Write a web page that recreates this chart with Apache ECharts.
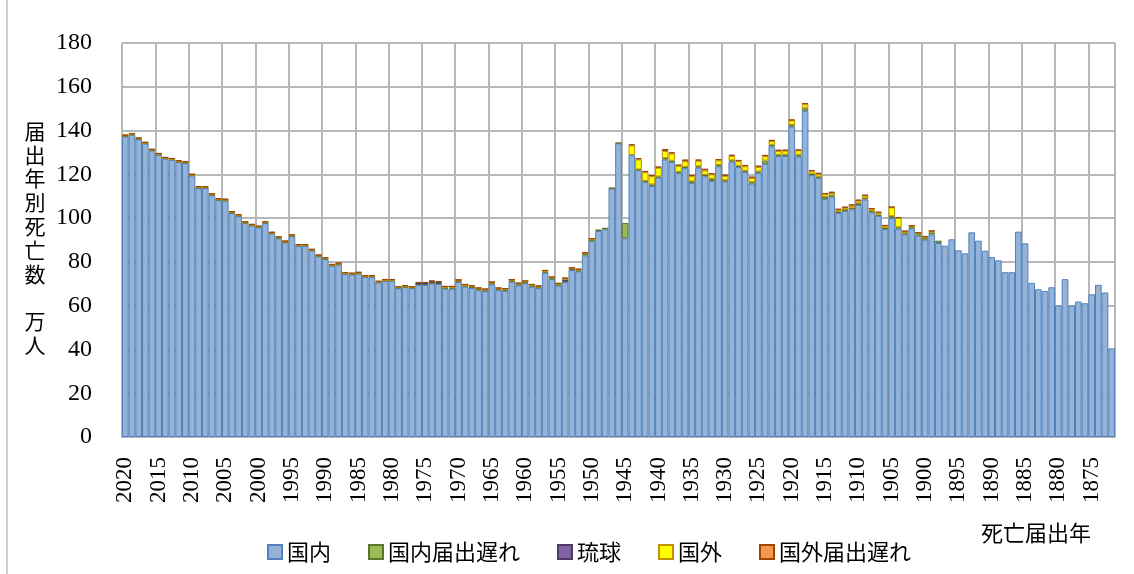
<!DOCTYPE html>
<html>
<head>
<meta charset="utf-8">
<script src="https://cdn.jsdelivr.net/npm/echarts@6/dist/echarts.min.js"></script>
<style>
html, body { margin: 0; padding: 0; background: #fff; }
#main { width: 1134px; height: 574px; }
</style>
</head>
<body>
<div id="main"></div>
<script>
var myChart = echarts.init(document.getElementById('main'));

// 死亡届出年 2020 -> 1872
var years = [];
for (var y = 2020; y >= 1872; y--) years.push(String(y));

// 国内 (万人)
var kokunai = [
    137.3, 138.0, 136.0, 134.0, 130.8, 128.9, 127.1, 126.6, 125.6, 125.1,
    119.4, 113.7, 113.7, 110.5, 108.2, 108.0, 102.3, 100.9, 97.7, 96.5,
    95.7, 97.7, 92.9, 90.8, 88.9, 91.7, 87.3, 87.3, 85.1, 82.5,
    81.3, 78.2, 78.8, 74.5, 74.2, 74.6, 73.1, 73.1, 70.5, 71.3,
    71.3, 68.0, 68.5, 68.0, 69.5, 69.5, 70.2, 69.9, 67.8, 67.8,
    70.8, 68.7, 68.1, 67.1, 66.6, 69.8, 67.1, 66.8, 70.9, 69.3,
    70.3, 68.7, 68.0, 75.1, 72.1, 69.2, 70.8, 76.3, 75.7, 83.0,
    89.4, 94.1, 94.9, 113.6, 134.2, 90.8, 128.9, 121.9, 116.4, 114.7,
    118.5, 126.8, 125.7, 120.5, 122.8, 116.0, 123.1, 119.1, 117.0, 123.7,
    116.7, 125.8, 123.3, 121.0, 115.8, 120.7, 124.8, 132.8, 128.3, 128.4,
    141.8, 128.1, 149.0, 119.6, 118.4, 108.8, 109.8, 102.3, 103.2, 104.0,
    106.0, 108.5, 102.5, 101.0, 95.0, 100.0, 95.2, 92.6, 95.3, 92.0,
    90.2, 92.6, 88.6, 87.4, 90.3, 85.3, 83.9, 93.5, 89.7, 85.1,
    82.2, 80.7, 75.3, 75.3, 93.8, 88.5, 70.4, 67.5, 66.7, 68.4,
    60.1, 72.1, 60.1, 61.9, 61.1, 65.2, 69.5, 66.0, 40.5
];

// 国内届出遅れ
var kokunaiOkure = [
    0.3, 0.3, 0.3, 0.3, 0.3, 0.3, 0.3, 0.3, 0.3, 0.3,
    0.3, 0.3, 0.3, 0.3, 0.3, 0.3, 0.3, 0.3, 0.3, 0.3,
    0.3, 0.3, 0.3, 0.3, 0.3, 0.3, 0.3, 0.3, 0.3, 0.3,
    0.3, 0.3, 0.3, 0.3, 0.3, 0.3, 0.3, 0.3, 0.3, 0.3,
    0.3, 0.3, 0.3, 0.3, 0.3, 0.3, 0.3, 0.3, 0.4, 0.4,
    0.4, 0.4, 0.4, 0.4, 0.4, 0.4, 0.4, 0.4, 0.4, 0.4,
    0.4, 0.4, 0.4, 0.4, 0.4, 0.4, 0.4, 0.4, 0.4, 0.8,
    0.8, 0.7, 0.7, 0.2, 0.2, 7.0, 0, 0.3, 0.6, 0.7,
    0.5, 0.6, 0.5, 0.6, 0.6, 0.8, 0.6, 0.6, 0.9, 0.6,
    0.6, 0.6, 0.6, 0.6, 0.6, 0.6, 1.5, 0.7, 0.6, 0.6,
    0.8, 0.8, 1.2, 0.6, 0.6, 0.9, 0.6, 0.5, 0.5, 0.8,
    0.8, 0.6, 0.7, 0.6, 0.5, 0.9, 0.6, 0.5, 0.5, 0.6,
    0.6, 0.9, 1.1, 0, 0, 0, 0, 0, 0, 0,
    0, 0, 0, 0, 0, 0, 0, 0, 0, 0,
    0, 0, 0, 0, 0, 0, 0, 0, 0
];

// 琉球
var ryukyu = [
    0, 0, 0, 0, 0, 0, 0, 0, 0, 0,
    0, 0, 0, 0, 0, 0, 0, 0, 0, 0,
    0, 0, 0, 0, 0, 0, 0, 0, 0, 0,
    0, 0, 0, 0, 0, 0, 0, 0, 0, 0,
    0, 0, 0, 0, 0.6, 0.6, 0.6, 0.6, 0, 0,
    0, 0, 0, 0, 0, 0, 0, 0, 0, 0,
    0, 0, 0, 0, 0, 0, 0.8, 0, 0, 0,
    0, 0, 0, 0, 0, 0, 0, 0, 0, 0,
    0, 0, 0, 0, 0, 0, 0, 0, 0, 0,
    0, 0, 0, 0, 0, 0, 0, 0, 0, 0,
    0, 0, 0, 0, 0, 0, 0, 0, 0, 0,
    0, 0, 0, 0, 0, 0, 0, 0, 0, 0,
    0, 0, 0, 0, 0, 0, 0, 0, 0, 0,
    0, 0, 0, 0, 0, 0, 0, 0, 0, 0,
    0, 0, 0, 0, 0, 0, 0, 0, 0
];

// 国外
var kokugai = [
    0.1, 0.1, 0.1, 0.1, 0.1, 0.1, 0.1, 0.1, 0.1, 0.1,
    0.1, 0.1, 0.1, 0.1, 0.1, 0.1, 0.1, 0.1, 0.1, 0.1,
    0.1, 0.1, 0.1, 0.1, 0.1, 0.1, 0.1, 0.1, 0.1, 0.1,
    0.1, 0.1, 0.1, 0.1, 0.1, 0.1, 0.1, 0.1, 0.1, 0.1,
    0.1, 0.1, 0.1, 0.1, 0, 0, 0, 0, 0.5, 0.5,
    0.5, 0.5, 0.5, 0.5, 0.5, 0.5, 0.5, 0.5, 0.5, 0.5,
    0.5, 0.5, 0.5, 0.5, 0.5, 0.5, 0.5, 0.5, 0.5, 0.3,
    0.3, 0, 0, 0, 0, 0, 4.3, 4.6, 4.0, 3.8,
    4.0, 3.3, 3.3, 2.8, 2.6, 2.4, 2.5, 2.1, 2.1, 2.1,
    2.0, 2.0, 2.1, 2.1, 2.0, 2.1, 2.0, 1.7, 1.8, 1.8,
    2.1, 2.1, 1.8, 1.2, 1.2, 1.2, 1.1, 1.0, 1.0, 0.9,
    1.2, 1.2, 0.9, 0.9, 1.0, 4.0, 4.3, 0.8, 0.6, 0.6,
    0.6, 0.5, 0, 0, 0, 0, 0, 0, 0, 0,
    0, 0, 0, 0, 0, 0, 0, 0, 0, 0,
    0, 0, 0, 0, 0, 0, 0, 0, 0
];

// 国外届出遅れ
var kokugaiOkure = [
    0.5, 0.5, 0.5, 0.5, 0.5, 0.5, 0.5, 0.5, 0.5, 0.5,
    0.5, 0.5, 0.5, 0.5, 0.5, 0.5, 0.5, 0.5, 0.5, 0.5,
    0.5, 0.5, 0.5, 0.5, 0.5, 0.5, 0.5, 0.5, 0.5, 0.5,
    0.5, 0.5, 0.5, 0.5, 0.5, 0.5, 0.5, 0.5, 0.5, 0.5,
    0.5, 0.5, 0.5, 0.5, 0.4, 0.4, 0.4, 0.4, 0.2, 0.2,
    0.2, 0.2, 0.2, 0.2, 0.2, 0.2, 0.2, 0.2, 0.2, 0.2,
    0.2, 0.2, 0.2, 0.2, 0.2, 0.2, 0.2, 0.2, 0.2, 0.2,
    0.2, 0, 0, 0, 0, 0, 0.6, 0.6, 0.6, 0.5,
    0.6, 0.9, 0.6, 0.6, 0.8, 0.6, 0.6, 0.8, 0.6, 0.6,
    0.6, 0.6, 0.6, 0.6, 0.6, 0.6, 0.6, 0.6, 0.6, 0.5,
    0.3, 0.3, 0.6, 0.6, 0.5, 0.6, 0.6, 0.5, 0.6, 0.6,
    0.4, 0.3, 0.5, 0.4, 0.3, 0.3, 0.3, 0.3, 0.3, 0.3,
    0.4, 0.3, 0, 0, 0, 0, 0, 0, 0, 0,
    0, 0, 0, 0, 0, 0, 0, 0, 0, 0,
    0, 0, 0, 0, 0, 0, 0, 0, 0
];

var serif = '"Liberation Serif", "DejaVu Serif", serif';
var cjk = '"Noto Sans CJK JP", sans-serif';
var gridGray = '#b8b8b8';

function stackBar(name, data, fill, border) {
    return {
        name: name,
        type: 'bar',
        stack: 'total',
        // zero segments are left out so that no border is drawn for them
        data: data.map(function (v) { return v === 0 ? '-' : v; }),
        barCategoryGap: '0%',
        itemStyle: { color: fill, borderColor: border, borderWidth: 1 }
    };
}

var option = {
    animation: false,
    grid: { left: 122, right: 19, top: 43, bottom: 137 },
    legend: {
        left: 262,
        top: 536,
        itemWidth: 14,
        itemHeight: 14,
        itemGap: 37,
        icon: 'rect',
        textStyle: { fontFamily: cjk, fontSize: 22, color: '#000' },
        data: ['国内', '国内届出遅れ', '琉球', '国外', '国外届出遅れ']
    },
    xAxis: {
        type: 'category',
        data: years,
        axisTick: { show: false },
        axisLine: { show: true, lineStyle: { color: gridGray, width: 2 } },
        axisLabel: {
            interval: 4,
            rotate: 90,
            margin: 20,
            fontFamily: serif,
            fontSize: 23,
            color: '#000'
        },
        splitLine: { show: true, interval: 4, lineStyle: { color: gridGray, width: 2 } }
    },
    yAxis: {
        type: 'value',
        min: 0,
        max: 180,
        interval: 20,
        axisLabel: { margin: 30, fontFamily: serif, fontSize: 24, color: '#000' },
        splitLine: { show: true, lineStyle: { color: gridGray, width: 2 } }
    },
    graphic: [
        {
            type: 'line',
            shape: { x1: 7, y1: 0, x2: 7, y2: 574 },
            style: { stroke: '#d0d0d0', lineWidth: 2 }
        },
        {
            type: 'text',
            x: 35,
            y: 119,
            style: {
                text: '届\n出\n年\n別\n死\n亡\n数\n　\n万\n人',
                fontFamily: cjk,
                fontSize: 21,
                lineHeight: 23.8,
                fill: '#000',
                align: 'center'
            }
        },
        {
            type: 'text',
            x: 981,
            y: 533,
            style: {
                text: '死亡届出年',
                fontFamily: cjk,
                fontSize: 22,
                fill: '#000',
                verticalAlign: 'middle'
            }
        }
    ],
    series: [
        stackBar('国内', kokunai, '#95B3D7', '#4F81BD'),
        stackBar('国内届出遅れ', kokunaiOkure, '#9BBB59', '#5E7530'),
        stackBar('琉球', ryukyu, '#8064A2', '#4B3A62'),
        stackBar('国外', kokugai, '#FFFF00', '#BF9000'),
        stackBar('国外届出遅れ', kokugaiOkure, '#F79646', '#984807')
    ]
};

myChart.setOption(option);
</script>
</body>
</html>
